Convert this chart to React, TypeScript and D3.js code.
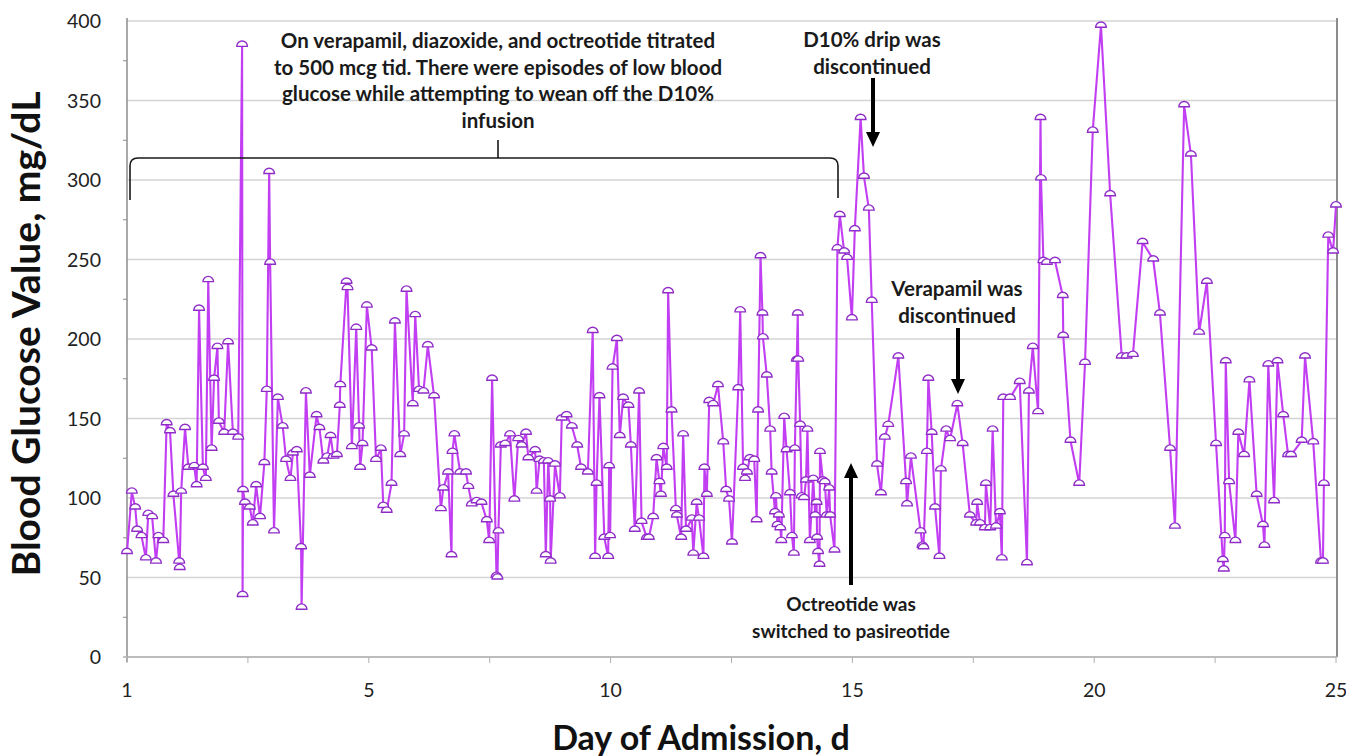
import * as React from "react";
import * as d3 from "d3";

// day of admission (0 = first day, shown as "1") and blood glucose in mg/dL
const sampleDay = [
  0.0, 0.1, 0.17, 0.21, 0.3, 0.39, 0.44, 0.52, 0.6, 0.65, 0.75, 0.82, 0.89, 0.96, 1.08, 1.09, 1.12, 1.2, 1.27, 1.39,
  1.44, 1.49, 1.57, 1.63, 1.68, 1.75, 1.8, 1.87, 1.9, 2.01, 2.09, 2.19, 2.3, 2.38, 2.39, 2.4, 2.44, 2.54, 2.6, 2.67,
  2.75, 2.84, 2.89, 2.94, 2.96, 3.04, 3.12,
  3.22, 3.29, 3.38, 3.43, 3.51, 3.6, 3.61, 3.7, 3.78, 3.92, 3.98, 4.06, 4.14, 4.21, 4.27, 4.34, 4.4, 4.41, 4.54, 4.56,
  4.65, 4.74, 4.8, 4.82, 4.87, 4.96, 5.06, 5.15, 5.25, 5.3, 5.37, 5.47, 5.54, 5.65, 5.73, 5.78, 5.91, 5.96, 6.04, 6.13,
  6.22,
  6.35, 6.49, 6.54, 6.64, 6.71, 6.73, 6.77, 6.89, 7.01, 7.06, 7.13, 7.23, 7.33, 7.44, 7.49, 7.55, 7.64, 7.66, 7.68, 7.73,
  7.82, 7.92, 8.01, 8.09, 8.16, 8.25, 8.3, 8.44, 8.47, 8.53, 8.62, 8.66, 8.71, 8.75, 8.76, 8.85, 8.95, 8.99, 9.09, 9.2,
  9.31, 9.39, 9.53,
  9.63, 9.68, 9.71, 9.77, 9.87, 9.95, 9.97, 9.99, 10.04, 10.13, 10.19, 10.26, 10.37, 10.42, 10.5, 10.59, 10.64, 10.75,
  10.79, 10.88, 10.95, 11.01, 11.04, 11.09, 11.16, 11.19, 11.26, 11.35, 11.37, 11.46, 11.5, 11.56, 11.68, 11.71, 11.78,
  11.83, 11.92, 11.94, 11.99, 12.04, 12.12, 12.22, 12.33, 12.39, 12.45, 12.51,
  12.64, 12.68, 12.74, 12.78, 12.82, 12.88, 12.97, 13.02, 13.05, 13.1, 13.14, 13.15, 13.23, 13.3, 13.33, 13.4, 13.42,
  13.45, 13.48, 13.51, 13.53, 13.59, 13.64, 13.71, 13.75, 13.79, 13.81, 13.85, 13.87, 13.88, 13.92, 13.95, 14.0, 14.04,
  14.07, 14.12, 14.19, 14.23, 14.26, 14.27, 14.29, 14.32, 14.33, 14.39, 14.43, 14.47, 14.52, 14.54, 14.63, 14.69, 14.74,
  14.83, 14.89, 14.99, 15.05, 15.17, 15.24, 15.34, 15.4, 15.51, 15.59, 15.67, 15.74,
  15.95, 16.11, 16.13, 16.21, 16.41, 16.45, 16.47, 16.54, 16.57, 16.64, 16.71, 16.8, 16.83, 16.94, 17.02, 17.17, 17.28,
  17.43, 17.56, 17.58, 17.64, 17.74, 17.76, 17.85, 17.9, 17.97, 18.05, 18.09, 18.12, 18.26, 18.46, 18.61, 18.65, 18.73,
  18.84, 18.89, 18.9, 18.95,
  19.02, 19.19, 19.35, 19.36, 19.51, 19.69, 19.81, 19.97, 20.14, 20.33, 20.57, 20.67, 20.8, 21.0, 21.22, 21.36, 21.57,
  21.67,
  21.86, 22.0, 22.17, 22.33, 22.52, 22.66, 22.68, 22.7, 22.72, 22.79, 22.92, 22.98, 23.1, 23.21, 23.36, 23.49, 23.52,
  23.6, 23.72, 23.79, 23.91, 24.01, 24.07, 24.29, 24.36, 24.53, 24.69, 24.73, 24.75, 24.84, 24.94, 25.0,
];

const glucose = [
  66, 104, 94, 80, 76, 62, 90, 88, 60, 76, 73, 147, 142, 102, 60, 56, 104, 144, 119, 120,
  108, 219, 119, 112, 237, 131, 175, 195, 148, 141, 198, 141, 138, 385, 39, 105, 97, 94, 84, 108,
  88, 122, 168, 305, 248, 79, 163,
  145, 124, 112, 128, 130, 69, 31, 167, 114, 152, 144, 123, 126, 139, 126, 127, 158, 171, 236, 232,
  132, 207, 145, 119, 134, 221, 194, 124, 131, 95, 92, 109, 211, 127, 140, 231, 159, 215, 168, 167,
  196,
  164, 93, 106, 116, 64, 129, 140, 116, 116, 107, 96, 98, 97, 86, 73, 175, 51, 50, 79, 133,
  134, 140, 99, 137, 133, 141, 125, 130, 104, 124, 123, 64, 123, 99, 60, 121, 101, 150, 152, 145,
  133, 119, 116,
  205, 63, 109, 164, 75, 63, 120, 76, 182, 200, 139, 163, 158, 133, 80, 167, 85, 75,
  75, 88, 125, 110, 102, 132, 119, 230, 155, 93, 89, 75, 140, 80, 87, 65, 97,
  87, 63, 119, 102, 161, 159, 171, 135, 105, 99, 72,
  169, 218, 119, 112, 116, 125, 124, 86, 155, 252, 216, 201, 177, 143, 116, 91, 101,
  83, 89, 81, 73, 151, 130, 103, 76, 65, 131, 187, 216, 187, 146, 101, 100, 111,
  143, 73, 112, 89, 97, 75, 66, 58, 129, 111, 110, 89, 106, 89, 67, 257, 278,
  255, 251, 213, 269, 339, 302, 282, 224, 121, 103, 138, 146,
  189, 110, 96, 126, 79, 70, 69, 129, 175, 141, 94, 63, 118, 143, 137, 159, 134,
  89, 84, 97, 84, 81, 109, 81, 143, 82, 91, 62, 163, 163, 173, 59, 167, 195,
  154, 339, 301, 249,
  248, 249, 227, 202, 136, 109, 185, 331, 397, 291, 189, 189, 190, 261, 250, 216, 131,
  82,
  347, 316, 204, 236, 134, 61, 55, 76, 186, 110, 73, 141, 127, 174, 102, 83, 70,
  184, 98, 186, 152, 127, 127, 136, 189, 135, 60, 60, 109, 265, 255, 284,
];

const yTicks = [0, 50, 100, 150, 200, 250, 300, 350, 400];
const xTicks = [0, 5, 10, 15, 20, 25];
const xTickLabels = ["1", "5", "10", "15", "20", "25"];

const bracketNote = [
  "On verapamil, diazoxide, and octreotide titrated",
  "to 500 mcg tid. There were episodes of low blood",
  "glucose while attempting to wean off the D10%",
  "infusion",
];
const dripNote = ["D10% drip was", "discontinued"];
const verapamilNote = ["Verapamil was", "discontinued"];
const octreotideNote = ["Octreotide was", "switched to pasireotide"];

const W = 1346;
const H = 756;
const FONT = "Lato, 'Open Sans', sans-serif";

const Arrow = ({ x, from, to }: { x: number; from: number; to: number }) => {
  const dir = to > from ? 1 : -1;
  const head = 15;
  return (
    <g>
      <line x1={x} x2={x} y1={from} y2={to - dir * head} stroke="#000" strokeWidth={4} />
      <path d={`M${x - 7},${to - dir * head} L${x + 7},${to - dir * head} L${x},${to} Z`} fill="#000" />
    </g>
  );
};

const Note = ({ lines, x, y, gap, size = 20.5 }: { lines: string[]; x: number; y: number; gap: number; size?: number }) => (
  <text x={x} y={y} textAnchor="middle" fontFamily={FONT} fontWeight="bold" fontSize={size} fill="#1a1a1a">
    {lines.map((l, i) => (
      <tspan key={i} x={x} dy={i === 0 ? 0 : gap}>
        {l}
      </tspan>
    ))}
  </text>
);

export default function App() {
  const x = d3.scaleLinear().domain([0, 25]).range([127, 1336]);
  const y = d3.scaleLinear().domain([0, 400]).range([657, 21]);

  const points = sampleDay.map((d, i) => [d, glucose[i]] as [number, number]);
  const line = d3
    .line<[number, number]>()
    .x((d) => x(d[0]))
    .y((d) => y(d[1]));

  const minorY = d3.range(25, 400, 50);
  const minorX = d3.range(0, 25.01, 2.5);

  return (
    <svg width={W} height={H} style={{ position: "absolute", left: 0, top: 0, background: "#fff" }}>
      {/* grid */}
      {yTicks.map((t) => (
        <line key={"g" + t} x1={127} x2={1337} y1={y(t)} y2={y(t)} stroke="#d4d4d4" strokeWidth={1.5} />
      ))}
      {/* axes */}
      <line x1={127} x2={127} y1={18} y2={662} stroke="#8c8c8c" strokeWidth={1.5} />
      <line x1={1337} x2={1337} y1={18} y2={657} stroke="#8c8c8c" strokeWidth={2} />
      <line x1={123} x2={1337} y1={657} y2={657} stroke="#b0b0b0" strokeWidth={1.5} />
      {minorY.map((t) => (
        <line key={"my" + t} x1={123} x2={127} y1={y(t)} y2={y(t)} stroke="#8c8c8c" strokeWidth={1} />
      ))}
      {minorX.map((t) => (
        <line key={"mx" + t} x1={x(t)} x2={x(t)} y1={657} y2={663} stroke="#b0b0b0" strokeWidth={1} />
      ))}
      {yTicks.map((t) => (
        <text key={"yl" + t} x={101} y={y(t) + 7} textAnchor="end" fontFamily={FONT} fontSize={19.5} fill="#222">
          {t}
        </text>
      ))}
      {xTicks.map((t, i) => (
        <text key={"xl" + t} x={x(t)} y={697} textAnchor="middle" fontFamily={FONT} fontSize={19.5} fill="#222">
          {xTickLabels[i]}
        </text>
      ))}

      {/* axis titles */}
      <text
        transform="translate(40,334) rotate(-90)"
        textAnchor="middle"
        fontFamily={FONT}
        fontWeight="bold"
        fontSize={39}
        fill="#111"
      >
        Blood Glucose Value, mg/dL
      </text>
      <text x={701} y={750} textAnchor="middle" fontFamily={FONT} fontWeight="bold" fontSize={34} fill="#111">
        Day of Admission, d
      </text>

      {/* series */}
      <path d={line(points) || ""} fill="none" stroke="#c23ef2" strokeWidth={2.1} strokeLinejoin="round" />
      {points.map((p, i) => {
        const cx = x(p[0]);
        const cy = y(p[1]) + 1.5;
        return (
          <path
            key={"m" + i}
            d={`M${cx - 5.3},${cy} A5.3,5.3 0 0 1 ${cx + 5.3},${cy} Z`}
            fill="#fff"
            stroke="#8f2cc8"
            strokeWidth={1.4}
          />
        );
      })}

      {/* annotations */}
      <path
        d="M130,200 L130,166 Q130,158 138,158 L830,158 Q838,158 838,166 L838,198 M498,158 L498,140"
        fill="none"
        stroke="#1a1a1a"
        strokeWidth={1.6}
      />
      <Note lines={bracketNote} x={498} y={48} gap={26.5} />
      <Note lines={dripNote} x={872} y={47} gap={27} />
      <Arrow x={873} from={78} to={147} />
      <Note lines={verapamilNote} x={957} y={296} gap={27} />
      <Arrow x={958} from={328} to={394} />
      <Arrow x={851} from={585} to={463} />
      <Note lines={octreotideNote} x={851} y={611} gap={27} size={19} />
    </svg>
  );
}
